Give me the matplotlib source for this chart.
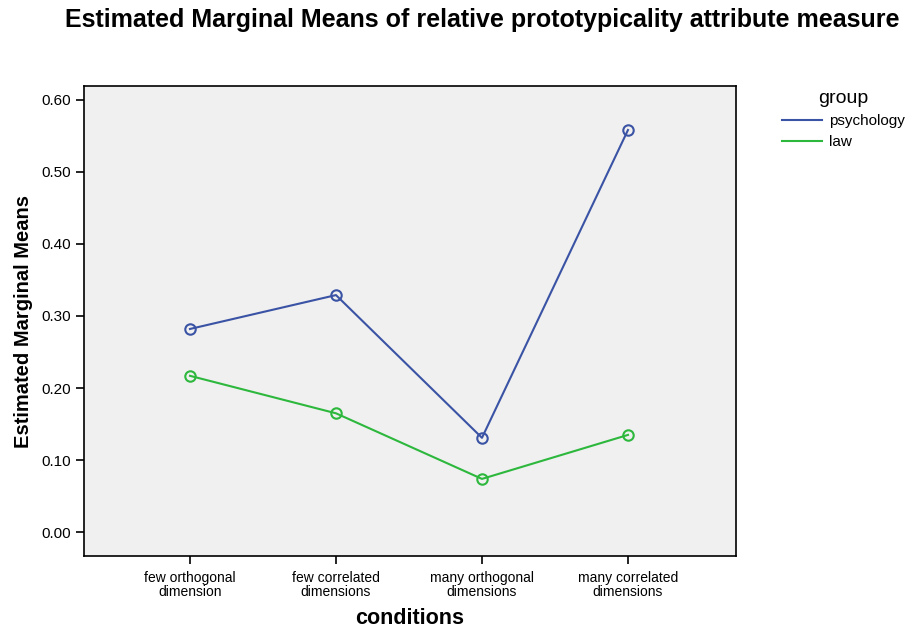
import numpy as np
import matplotlib
matplotlib.use("Agg")
import matplotlib.pyplot as plt

plt.rcParams['font.family'] = ['Liberation Sans', 'DejaVu Sans']

# data
conditions = ["few orthogonal\ndimension", "few correlated\ndimensions",
              "many orthogonal\ndimensions", "many correlated\ndimensions"]
psychology = [0.282, 0.329, 0.131, 0.558]
law = [0.217, 0.165, 0.074, 0.135]
groups = ["psychology", "law"]
colors = ["#3a53a4", "#2db83d"]

fig = plt.figure(figsize=(9.16, 6.28), dpi=100)
ax = fig.add_axes([0.0917, 0.1146, 0.7118, 0.7484])
ax.set_facecolor("#f0f0f0")

x = np.arange(len(conditions))
for vals, name, c in zip([psychology, law], groups, colors):
    ax.plot(x, vals, color=c, lw=1.5, label=name, marker="o", ms=7.5,
            mfc="none", mec=c, mew=1.5)

ax.set_xlim(-0.726, 3.74)
ax.set_ylim(-0.033, 0.619)
ax.set_xticks(x)
ax.set_xticklabels(conditions, fontsize=10, linespacing=0.95)
ax.set_yticks(np.arange(0, 0.61, 0.1))
ax.set_yticklabels(["%.2f" % v for v in np.arange(0, 0.61, 0.1)], fontsize=11)
ax.tick_params(direction="out", length=6, width=1.2)
ax.tick_params(axis="x", pad=5)
for s in ax.spines.values():
    s.set_linewidth(1.2)

ax.set_xlabel("conditions", fontsize=15.5, fontweight="bold", labelpad=7)
ax.set_ylabel("Estimated Marginal Means", fontsize=14.5, fontweight="bold", labelpad=6)
fig.suptitle("Estimated Marginal Means of relative prototypicality attribute measure",
             x=0.526, y=0.987, fontsize=18, fontweight="bold")

leg = ax.legend(title="group", loc="upper left", bbox_to_anchor=(1.05, 1.02),
                frameon=False, fontsize=11, title_fontsize=14, handlelength=2.6,
                handletextpad=0.45, labelspacing=0.45)
for h in leg.legend_handles:
    h.set_marker("")

fig.savefig("out.png", dpi=100)
